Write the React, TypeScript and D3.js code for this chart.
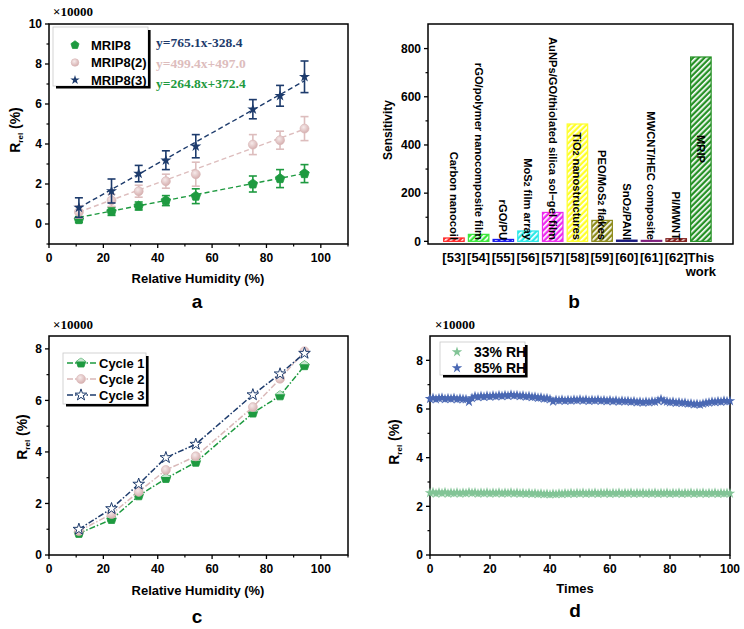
import React from 'react';
import * as d3 from 'd3';

const SANS = "'Liberation Sans', Arial, sans-serif";
const SERIF = "'Liberation Serif', 'Times New Roman', serif";

// humidity steps shared by panels a and c
const rh = [11, 23, 33, 43, 54, 75, 85, 94];

// panel a: response (x10000 %) with error bars
const mrip8 = [0.22, 0.63, 0.9, 1.17, 1.39, 2.0, 2.27, 2.52];
const mrip8Err = [0.15, 0.2, 0.2, 0.25, 0.37, 0.4, 0.45, 0.45];
const mrip8b = [0.6, 1.18, 1.64, 2.14, 2.49, 3.97, 4.19, 4.77];
const mrip8bErr = [0.3, 0.3, 0.3, 0.35, 0.6, 0.5, 0.45, 0.6];
const mrip8c = [0.82, 1.65, 2.52, 3.19, 3.89, 5.74, 6.41, 7.36];
const mrip8cErr = [0.49, 0.6, 0.41, 0.47, 0.58, 0.48, 0.52, 0.79];
const fitSlopes = [765.1, 499.4, 264.8];
const fitIntercepts = [-328.4, 497.0, 372.4];
const fitLabels = ['y=765.1x-328.4', 'y=499.4x+497.0', 'y=264.8x+372.4'];

// panel b: sensitivity comparison
const refs = ['[53]', '[54]', '[55]', '[56]', '[57]', '[58]', '[59]', '[60]', '[61]', '[62]', 'This work'];
const materials = [
  'Carbon nanocoil', 'rGO/polymer nanocomposite film', 'rGO/PU', 'MoS2 film array',
  'AuNPs/GO/thiolated silica sol\u2212gel film', 'TiO2 nanostructures', 'PEO/MoS2 flakes',
  'SnO2/PANI', 'MWCNT/HEC composite', 'PI/MWNT', 'MRIP'
];
const sensitivity = [14, 29, 8, 43, 120, 487, 87, 5, 4, 11, 765.1];
const barColors = ['#ff2a2a', '#3be83b', '#1a1aee', '#2ae8e8', '#ee2aee', '#ffff2a', '#8c8a1a', '#1a1a80', '#80207e', '#82201e', '#259125'];

// panel c: three humidity cycles
const cycle1 = [0.84, 1.38, 2.3, 2.97, 3.6, 5.51, 6.18, 7.35];
const cycle2 = [0.93, 1.59, 2.45, 3.3, 3.83, 5.74, 6.84, 7.91];
const cycle3 = [1.0, 1.8, 2.75, 3.78, 4.3, 6.22, 7.03, 7.83];

// panel d: repeated measurements
const rh33 = [
  2.55, 2.58, 2.53, 2.57, 2.54, 2.58, 2.53, 2.56, 2.54, 2.57,
  2.53, 2.56, 2.54, 2.58, 2.55, 2.57, 2.53, 2.56, 2.54, 2.57,
  2.53, 2.56, 2.54, 2.57, 2.53, 2.56, 2.54, 2.57, 2.53, 2.56,
  2.53, 2.55, 2.52, 2.55, 2.52, 2.54, 2.51, 2.53, 2.5, 2.52,
  2.49, 2.52, 2.5, 2.53, 2.51, 2.54, 2.52, 2.55, 2.52, 2.55,
  2.53, 2.56, 2.52, 2.55, 2.53, 2.56, 2.52, 2.55, 2.53, 2.56,
  2.52, 2.55, 2.53, 2.56, 2.52, 2.55, 2.53, 2.56, 2.52, 2.55,
  2.53, 2.56, 2.52, 2.55, 2.53, 2.56, 2.52, 2.55, 2.53, 2.56,
  2.52, 2.55, 2.53, 2.56, 2.52, 2.55, 2.53, 2.56, 2.52, 2.55,
  2.53, 2.56, 2.52, 2.55, 2.53, 2.56, 2.52, 2.55, 2.53, 2.55,
  2.53
];
const rh85 = [
  6.42, 6.45, 6.4, 6.44, 6.46, 6.41, 6.44, 6.42, 6.45, 6.4,
  6.43, 6.41, 6.4, 6.3, 6.45, 6.52, 6.49, 6.53, 6.5, 6.54,
  6.51, 6.55, 6.52, 6.56, 6.53, 6.57, 6.54, 6.59, 6.55, 6.57,
  6.53, 6.55, 6.51, 6.53, 6.49, 6.5, 6.46, 6.47, 6.43, 6.44,
  6.4, 6.31, 6.37, 6.35, 6.38, 6.34, 6.37, 6.35, 6.38, 6.36,
  6.39, 6.35, 6.38, 6.34, 6.37, 6.35, 6.38, 6.34, 6.36, 6.33,
  6.36, 6.32, 6.35, 6.31, 6.34, 6.32, 6.33, 6.3, 6.32, 6.28,
  6.3, 6.27, 6.3, 6.28, 6.31, 6.3, 6.34, 6.4, 6.33, 6.31,
  6.28, 6.3, 6.26, 6.28, 6.25, 6.26, 6.22, 6.23, 6.19, 6.21,
  6.18, 6.22, 6.25, 6.27, 6.3, 6.29, 6.32, 6.3, 6.34, 6.32,
  6.33
];

const GREEN = '#1e9a40';
const PINK = '#ddbdbd';
const NAVY = '#1d3b6c';

const star = (size: number) => d3.symbol(d3.symbolStar, size)() as string;

const pentagon = (r: number) => {
  const pts = d3.range(5).map(i => {
    const a = -Math.PI / 2 + (i * 2 * Math.PI) / 5;
    return [r * Math.cos(a), r * Math.sin(a)];
  });
  return 'M' + pts.map(p => p.join(',')).join('L') + 'Z';
};

type Lin = d3.ScaleLinear<number, number>;

// plot frame plus outward ticks on the bottom and left
const Axes = ({ x, y, xMajor, xMinor, yMajor, yMinor, showX = true }:
  { x: Lin; y: Lin; xMajor: number[]; xMinor: number[]; yMajor: number[]; yMinor: number[]; showX?: boolean }) => {
  const [x0, x1] = x.range();
  const [y0, y1] = y.range();
  return (
    <g fontFamily={SANS} fontWeight="bold" fontSize={12}>
      <rect x={x0} y={y1} width={x1 - x0} height={y0 - y1} fill="none" stroke="#000" strokeWidth={1.5} />
      {showX && xMajor.map(v => (
        <g key={'xm' + v}>
          <line x1={x(v)} x2={x(v)} y1={y0} y2={y0 + 4} stroke="#000" strokeWidth={1.3} />
          <text x={x(v)} y={y0 + 18} textAnchor="middle">{v}</text>
        </g>
      ))}
      {showX && xMinor.map(v => (
        <line key={'xn' + v} x1={x(v)} x2={x(v)} y1={y0} y2={y0 + 2.5} stroke="#000" strokeWidth={1.2} />
      ))}
      {yMajor.map(v => (
        <g key={'ym' + v}>
          <line x1={x0 - 4} x2={x0} y1={y(v)} y2={y(v)} stroke="#000" strokeWidth={1.3} />
          <text x={x0 - 7} y={y(v) + 4.2} textAnchor="end">{v}</text>
        </g>
      ))}
      {yMinor.map(v => (
        <line key={'yn' + v} x1={x0 - 2.5} x2={x0} y1={y(v)} y2={y(v)} stroke="#000" strokeWidth={1.2} />
      ))}
    </g>
  );
};

const RrelLabel = ({ x, y }: { x: number; y: number }) => (
  <text transform={`translate(${x},${y}) rotate(-90)`} textAnchor="middle" fontFamily={SANS} fontWeight="bold" fontSize={14}>
    R<tspan fontSize={8} dy={3}>rel</tspan><tspan dy={-3}> (%)</tspan>
  </text>
);

const Scale10k = ({ x, y }: { x: number; y: number }) => (
  <text x={x} y={y} fontFamily={SERIF} fontWeight="bold" fontSize={13}>×10000</text>
);

// legend frame: faint outline with a heavy drop shadow
const LegendBox = ({ x, y, w, h }: { x: number; y: number; w: number; h: number }) => (
  <g>
    <rect x={x} y={y} width={w} height={h} fill="#fff" stroke="#c8c8c8" strokeWidth={0.8} />
    <path d={`M${x + 3},${y + h + 1.3}H${x + w + 1.3}V${y + 3}`} fill="none" stroke="#000" strokeWidth={2.6} />
  </g>
);

const PanelA = () => {
  const x = d3.scaleLinear([0, 110], [49, 348]);
  const y = d3.scaleLinear([-1, 10], [244, 24]);
  const series = [
    { vals: mrip8, err: mrip8Err, color: GREEN },
    { vals: mrip8b, err: mrip8bErr, color: PINK },
    { vals: mrip8c, err: mrip8cErr, color: NAVY }
  ];
  const fitColors = [NAVY, PINK, GREEN];
  const fitLine = d3.line<number>().x(v => x(v));
  const marker = (k: number, cx: number, cy: number, s = 1) => {
    if (k === 0) return <path d={pentagon(5 * s)} transform={`translate(${cx},${cy})`} fill={GREEN} stroke={GREEN} strokeWidth={0.8} />;
    if (k === 1) return <circle cx={cx} cy={cy} r={4.5 * s} fill="url(#pinkBall)" stroke="#d8b6b6" strokeWidth={0.6} />;
    return <path d={star(38 * s * s)} transform={`translate(${cx},${cy})`} fill={NAVY} />;
  };
  return (
    <g>
      <Axes x={x} y={y} xMajor={[0, 20, 40, 60, 80, 100]} xMinor={[10, 30, 50, 70, 90, 110]}
        yMajor={[0, 2, 4, 6, 8, 10]} yMinor={[-1, 1, 3, 5, 7, 9]} />
      {fitSlopes.map((s, i) => (
        <path key={'fit' + i}
          d={fitLine.y(v => y((s * v + fitIntercepts[i]) / 10000))([rh[0], rh[rh.length - 1]]) as string}
          fill="none" stroke={fitColors[i]} strokeWidth={1.4} strokeDasharray="5,3" />
      ))}
      {series.map((s, k) => (
        <g key={'s' + k}>
          {s.vals.map((v, i) => (
            <g key={i} stroke={s.color} strokeWidth={1.6}>
              <line x1={x(rh[i])} x2={x(rh[i])} y1={y(v - s.err[i])} y2={y(v + s.err[i])} />
              <line x1={x(rh[i]) - 4} x2={x(rh[i]) + 4} y1={y(v - s.err[i])} y2={y(v - s.err[i])} />
              <line x1={x(rh[i]) - 4} x2={x(rh[i]) + 4} y1={y(v + s.err[i])} y2={y(v + s.err[i])} />
            </g>
          ))}
          {s.vals.map((v, i) => <g key={'m' + i}>{marker(k, x(rh[i]), y(v))}</g>)}
        </g>
      ))}
      <LegendBox x={53} y={27} w={95} h={59} />
      {['MRIP8', 'MRIP8(2)', 'MRIP8(3)'].map((t, k) => (
        <g key={t}>
          {marker(k, 75, 45 + k * 17.5, 0.85)}
          <text x={91} y={45 + k * 17.5 + 4.5} fontFamily={SANS} fontWeight="bold" fontSize={13}>{t}</text>
        </g>
      ))}
      {fitLabels.map((t, i) => (
        <text key={t} x={156} y={47 + i * 20.5} fontFamily={SERIF} fontWeight="bold" fontSize={13.5} fill={fitColors[i]}>{t}</text>
      ))}
      <Scale10k x={53} y={16} />
      <RrelLabel x={20} y={130} />
      <text x={198} y={283} textAnchor="middle" fontFamily={SANS} fontWeight="bold" fontSize={13}>Relative Humidity (%)</text>
      <text x={197} y={308} textAnchor="middle" fontFamily={SANS} fontWeight="bold" fontSize={19}>a</text>
    </g>
  );
};

// splits "MoS2" style formulas so the digit is drawn smaller
const formula = (s: string) =>
  s.split(/(?<=[A-Za-z])(2)/).map((p, i) =>
    p === '2' ? <tspan key={i} fontSize={8.5}>2</tspan> : <tspan key={i}>{p}</tspan>
  );

const PanelB = () => {
  const x = d3.scaleLinear([-0.05, 12.3], [428, 733]);
  const y = d3.scaleLinear([-11, 902], [244, 24]);
  const bw = 20.5;
  const [y0, y1] = y.range();
  return (
    <g>
      <defs>
        {barColors.map((c, i) => (
          <pattern key={i} id={'hatch' + i} patternUnits="userSpaceOnUse" width={4} height={4} patternTransform="rotate(45)">
            <rect width={4} height={4} fill={c} />
            <rect width={1.7} height={4} fill="#fff" />
          </pattern>
        ))}
      </defs>
      {sensitivity.map((v, i) => (
        <rect key={i} x={x(i + 1) - bw / 2} y={y(v)} width={bw} height={y(0) - y(v)}
          fill={`url(#hatch${i})`} stroke={barColors[i]} strokeWidth={1.2} />
      ))}
      <rect x={428} y={y1} width={305} height={y0 - y1} fill="none" stroke="#000" strokeWidth={1.5} />
      {[0, 200, 400, 600, 800].map(v => (
        <g key={v} fontFamily={SANS} fontWeight="bold" fontSize={12}>
          <line x1={424} x2={428} y1={y(v)} y2={y(v)} stroke="#000" strokeWidth={1.3} />
          <text x={421} y={y(v) + 4.2} textAnchor="end">{v}</text>
        </g>
      ))}
      {[100, 300, 500, 700].map(v => (
        <line key={v} x1={425.5} x2={428} y1={y(v)} y2={y(v)} stroke="#000" strokeWidth={1.2} />
      ))}
      {materials.map((m, i) => {
        const last = i === materials.length - 1;
        return (
          <text key={m} transform={`translate(${x(i + 1)},${last ? 163 : 240}) rotate(90)`} dy="0.36em"
            textAnchor="end" fontFamily={SANS} fontWeight="bold" fontSize={11.2}>{formula(m)}</text>
        );
      })}
      {refs.map((r, i) => {
        const words = r.split(' ');
        return (
          <text key={r} x={x(i + 1)} y={262} textAnchor="middle" fontFamily={SANS} fontWeight="bold" fontSize={13}>
            {words.map((w, j) => <tspan key={j} x={x(i + 1)} dy={j === 0 ? 0 : 14}>{w}</tspan>)}
          </text>
        );
      })}
      <text transform="translate(392,130) rotate(-90)" textAnchor="middle" fontFamily={SANS} fontWeight="bold" fontSize={12}>Sensitivity</text>
      <text x={574} y={308} textAnchor="middle" fontFamily={SANS} fontWeight="bold" fontSize={19}>b</text>
    </g>
  );
};

const PanelC = () => {
  const x = d3.scaleLinear([0, 110], [49, 348]);
  const y = d3.scaleLinear([0, 8.5], [555, 336]);
  const line = d3.line<number>().x((_, i) => x(rh[i])).y(v => y(v));
  const series = [
    { vals: cycle1, color: GREEN, name: 'Cycle 1' },
    { vals: cycle2, color: '#d9b8b8', name: 'Cycle 2' },
    { vals: cycle3, color: NAVY, name: 'Cycle 3' }
  ];
  const marker = (k: number, cx: number, cy: number) => {
    if (k === 0) return (
      <g transform={`translate(${cx},${cy})`}>
        <path d={pentagon(5)} fill={GREEN} stroke={GREEN} strokeWidth={0.8} />
        <path d="M-4.7,-1.5L0,-5L4.7,-1.5Z" fill="#fff" opacity={0.75} />
      </g>
    );
    if (k === 1) return <circle cx={cx} cy={cy} r={4.5} fill="url(#pinkBall)" stroke="#d8b6b6" strokeWidth={0.6} />;
    return <path d={star(42)} transform={`translate(${cx},${cy})`} fill="#fff" stroke={NAVY} strokeWidth={1} />;
  };
  return (
    <g>
      <Axes x={x} y={y} xMajor={[0, 20, 40, 60, 80, 100]} xMinor={[10, 30, 50, 70, 90, 110]}
        yMajor={[0, 2, 4, 6, 8]} yMinor={[1, 3, 5, 7]} />
      {series.map((s, k) => (
        <g key={s.name}>
          <path d={line(s.vals) as string} fill="none" stroke={s.color} strokeWidth={1.5} strokeDasharray="6,2,1.5,2" />
          {s.vals.map((v, i) => <g key={i}>{marker(k, x(rh[i]), y(v))}</g>)}
        </g>
      ))}
      <LegendBox x={63} y={353} w={83} h={51} />
      {series.map((s, k) => (
        <g key={'lg' + k}>
          <line x1={67} x2={97} y1={363 + k * 16} y2={363 + k * 16} stroke={s.color} strokeWidth={1.5} strokeDasharray="6,2,1.5,2" />
          {marker(k, 81, 363 + k * 16)}
          <text x={99} y={363 + k * 16 + 4.5} fontFamily={SANS} fontWeight="bold" fontSize={13}>{s.name}</text>
        </g>
      ))}
      <Scale10k x={53} y={329} />
      <RrelLabel x={27} y={437} />
      <text x={198} y={595} textAnchor="middle" fontFamily={SANS} fontWeight="bold" fontSize={13}>Relative Humidity (%)</text>
      <text x={197} y={623} textAnchor="middle" fontFamily={SANS} fontWeight="bold" fontSize={19}>c</text>
    </g>
  );
};

const PanelD = () => {
  const x = d3.scaleLinear([0, 100], [430, 730]);
  const y = d3.scaleLinear([0, 9], [555, 336]);
  const series = [
    { vals: rh33, color: '#82c496', name: '33% RH' },
    { vals: rh85, color: '#4a68b3', name: '85% RH' }
  ];
  return (
    <g>
      <Axes x={x} y={y} xMajor={[0, 20, 40, 60, 80, 100]} xMinor={[10, 30, 50, 70, 90]}
        yMajor={[0, 2, 4, 6, 8]} yMinor={[1, 3, 5, 7]} />
      {series.map(s => (
        <g key={s.name} fill={s.color}>
          {s.vals.map((v, i) => (
            <path key={i} d={star(34)} transform={`translate(${x(i)},${y(v)})`} />
          ))}
        </g>
      ))}
      <LegendBox x={440} y={342} w={85} h={33} />
      {series.map((s, k) => (
        <g key={'lg' + k}>
          <path d={star(34)} transform={`translate(457,${352 + k * 16})`} fill={s.color} />
          <text x={474} y={352 + k * 16 + 5} fontFamily={SANS} fontWeight="bold" fontSize={14}>{s.name}</text>
        </g>
      ))}
      <Scale10k x={435} y={329} />
      <RrelLabel x={399} y={442} />
      <text x={575} y={593} textAnchor="middle" fontFamily={SANS} fontWeight="bold" fontSize={13}>Times</text>
      <text x={575} y={617} textAnchor="middle" fontFamily={SANS} fontWeight="bold" fontSize={19}>d</text>
    </g>
  );
};

export default function App() {
  return (
    <div style={{ position: 'absolute', left: 0, top: 0 }}>
      <svg width={744} height={629} viewBox="0 0 744 629" style={{ display: 'block', background: '#fff' }}>
        <defs>
          <radialGradient id="pinkBall" cx="40%" cy="35%" r="65%">
            <stop offset="0%" stopColor="#f6eaea" />
            <stop offset="100%" stopColor="#d6b0b0" />
          </radialGradient>
        </defs>
        <PanelA />
        <PanelB />
        <PanelC />
        <PanelD />
      </svg>
    </div>
  );
}
